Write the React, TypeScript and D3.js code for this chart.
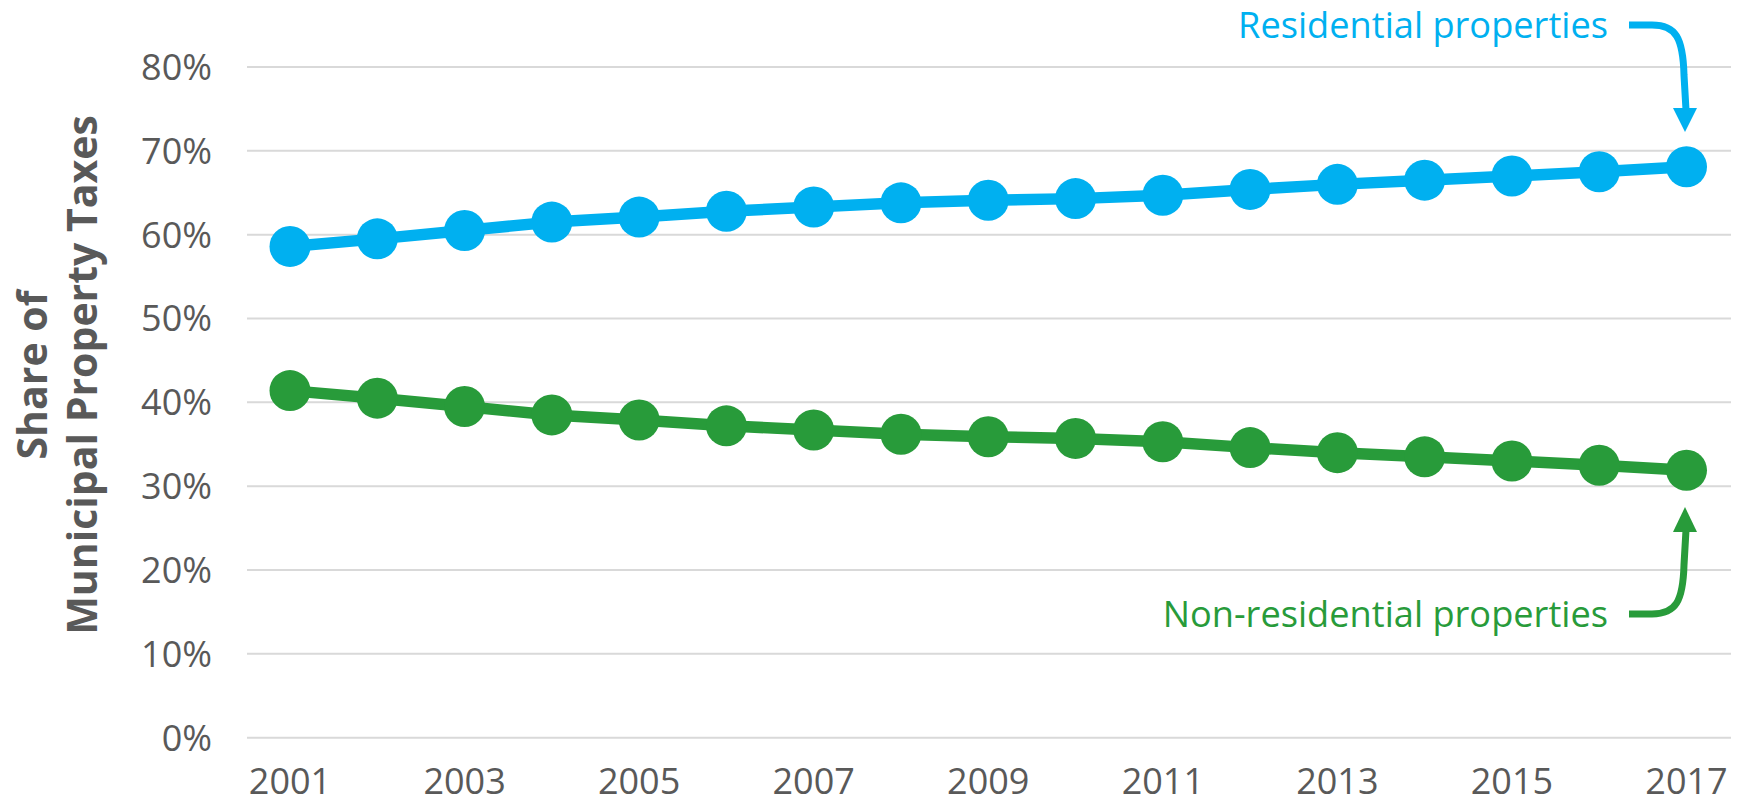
import React from "react";
import * as d3 from "d3";

const years = [2001, 2002, 2003, 2004, 2005, 2006, 2007, 2008, 2009, 2010, 2011, 2012, 2013, 2014, 2015, 2016, 2017];
const residential = [58.6, 59.5, 60.5, 61.5, 62.1, 62.8, 63.3, 63.8, 64.1, 64.3, 64.7, 65.4, 66.0, 66.5, 67.0, 67.5, 68.1];
const nonResidential = [41.4, 40.5, 39.5, 38.5, 37.9, 37.2, 36.7, 36.2, 35.9, 35.7, 35.3, 34.6, 34.0, 33.5, 33.0, 32.5, 31.9];
const yTicks = [0, 10, 20, 30, 40, 50, 60, 70, 80];
const xTickYears = [2001, 2003, 2005, 2007, 2009, 2011, 2013, 2015, 2017];
const titleLines = ["Share of", "Municipal Property Taxes"];
const labelResidential = "Residential properties";
const labelNonResidential = "Non-residential properties";

const W = 1744;
const H = 801;
const BLUE = "#00B0F0";
const GREEN = "#289B3A";
const GREY = "#595959";
const FONT = "'Open Sans', 'Noto Sans', sans-serif";

export default function App() {
  const x = d3.scaleLinear().domain([2001, 2017]).range([290, 1686.5]);
  const y = d3.scaleLinear().domain([0, 80]).range([737.7, 67]);
  const line = d3
    .line<number>()
    .x((_, i) => x(years[i]))
    .y((d) => y(d));

  const series = [
    { values: residential, color: BLUE },
    { values: nonResidential, color: GREEN },
  ];

  return (
    <svg
      width={W}
      height={H}
      style={{ position: "absolute", left: 0, top: 0, display: "block", background: "#fff" }}
    >
      {yTicks.map((t) => (
        <g key={t}>
          <line x1={247} x2={1731} y1={y(t)} y2={y(t)} stroke="#D9D9D9" strokeWidth={2} />
          <text
            x={212}
            y={y(t)}
            dy="0.36em"
            textAnchor="end"
            fontFamily={FONT}
            fontSize={36}
            fill={GREY}
          >
            {t}%
          </text>
        </g>
      ))}
      {xTickYears.map((yr) => (
        <text
          key={yr}
          x={x(yr)}
          y={794}
          textAnchor="middle"
          fontFamily={FONT}
          fontSize={36}
          fill={GREY}
        >
          {yr}
        </text>
      ))}
      {titleLines.map((t, i) => (
        <text
          key={t}
          transform={`translate(${47 + i * 50},375) rotate(-90)`}
          textAnchor="middle"
          fontFamily={FONT}
          fontWeight="bold"
          fontSize={41}
          fill={GREY}
        >
          {t}
        </text>
      ))}
      {series.map((s, si) => (
        <g key={si}>
          <path d={line(s.values) || ""} fill="none" stroke={s.color} strokeWidth={11.5} strokeLinejoin="round" />
          {s.values.map((v, i) => (
            <circle key={i} cx={x(years[i])} cy={y(v)} r={20.5} fill={s.color} />
          ))}
        </g>
      ))}
      {/* Residential annotation */}
      <text x={1608} y={38} textAnchor="end" fontFamily={FONT} fontSize={36.2} fill={BLUE}>
        {labelResidential}
      </text>
      <path
        d="M1629,25 H1652 C1676,25 1683,38 1684,75 L1686,110"
        fill="none"
        stroke={BLUE}
        strokeWidth={7}
      />
      <path d="M1673,108 L1697,108 L1685,132 Z" fill={BLUE} />
      {/* Non-residential annotation */}
      <text x={1608} y={627} textAnchor="end" fontFamily={FONT} fontSize={36.2} fill={GREEN}>
        {labelNonResidential}
      </text>
      <path
        d="M1629,614 H1652 C1676,614 1683,601 1684,565 L1686,530"
        fill="none"
        stroke={GREEN}
        strokeWidth={7}
      />
      <path d="M1673,532 L1697,532 L1685,507 Z" fill={GREEN} />
    </svg>
  );
}
